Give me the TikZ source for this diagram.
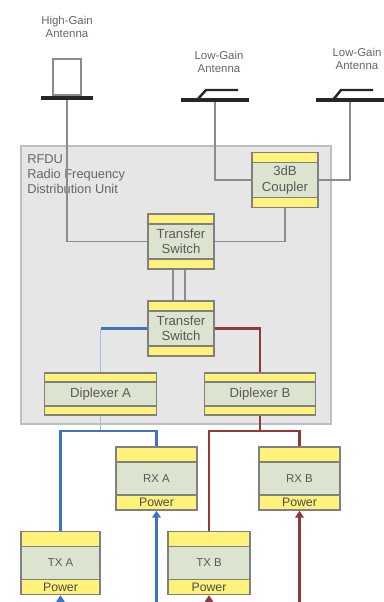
\documentclass[tikz,border=0pt]{standalone}
\usepackage{fontspec}
\setmainfont{Liberation Sans}
\usepackage{xcolor}
\usetikzlibrary{arrows.meta,positioning,calc}
\definecolor{bandyellow}{HTML}{FFF27A}
\definecolor{unitgreen}{HTML}{DCE3CE}
\definecolor{rfdugray}{HTML}{E6E6E6}
\definecolor{linkblue}{HTML}{3F74C4}
\definecolor{paleblue}{HTML}{9DBCE8}
\definecolor{linkred}{HTML}{8E3A3A}
\tikzset{
  unit/.style={draw=gray, line width=.8pt, fill=unitgreen, inner sep=0pt, align=center,
    font=\fontsize{7.5}{8.8}\selectfont, text=black!65,
    path picture={
      \fill[bandyellow] (path picture bounding box.north west) rectangle ($(path picture bounding box.north east)+(0,#1)$);
      \fill[bandyellow] (path picture bounding box.south west) rectangle ($(path picture bounding box.south east)+(0,-#1)$);
      \draw[gray, line width=.8pt] ($(path picture bounding box.north west)+(0,#1)$) -- ($(path picture bounding box.north east)+(0,#1)$);
      \draw[gray, line width=.8pt] ($(path picture bounding box.south west)+(0,-#1)$) -- ($(path picture bounding box.south east)+(0,-#1)$);
    }},
  switchbox/.style={unit=10, minimum width=1.32cm, minimum height=1.1cm},
  diplexerbox/.style={unit=9, minimum width=2.23cm, minimum height=.84cm},
  radiobox/.style={unit=15, minimum width=1.62cm, minimum height=1.26cm, font=\fontsize{6.5}{7.6}\selectfont},
  plate/.style={fill=black!85, inner sep=0pt, minimum height=.08cm},
  caption/.style={font=\fontsize{6.5}{7.6}\selectfont, text=black!60, align=center},
  powertext/.style={font=\fontsize{7}{8}\selectfont, text=black!70},
  wire/.style={draw=black!45, line width=.8pt},
  bluelink/.style={draw=linkblue, line width=1.6pt},
  redlink/.style={draw=linkred, line width=1.6pt},
}
\begin{document}
\begin{tikzpicture}[x=.02cm, y=-.02cm]
\useasboundingbox (0,0) rectangle (384,602);
% RFDU
\node[draw=black!25, line width=1.2pt, fill=rfdugray, minimum width=6.2cm, minimum height=5.56cm, inner sep=0pt] (rfdu) at (176,285) {};
\node[caption, align=left, anchor=north west, inner sep=0pt, font=\fontsize{7.3}{8.7}\selectfont] (rfdutext) at (27,154) {RFDU\\Radio Frequency\\Distribution Unit};
% antennas
\node[plate, minimum width=1.04cm] (hga) at (67,98) {};
\node[wire, draw, minimum width=.56cm, minimum height=.72cm, inner sep=0pt] (hgadish) at (67,77) {};
\node[caption] (hgatext) at (67,27) {High-Gain\\Antenna};
\node[plate, minimum width=1.36cm] (lga) at (215,100) {};
\draw[black!85, line width=1.4pt] (197,100) -- (206,90) -- (238,90);
\node[caption] (lgatext) at (219,62) {Low-Gain\\Antenna};
\node[plate, minimum width=1.36cm] (lgb) at (350,100) {};
\draw[black!85, line width=1.4pt] (333,100) -- (341,90) -- (373,90);
\node[caption] (lgbtext) at (357,59) {Low-Gain\\Antenna};
% units
\node[switchbox] (coupler) at (285,180) {3dB\\Coupler};
\node[switchbox] (swa) at (181,241.5) {Transfer\\Switch};
\node[switchbox] (swb) at (181,328.5) {Transfer\\Switch};
\node[diplexerbox] (dipa) at (100.5,394) {Diplexer A};
\node[diplexerbox] (dipb) at (260,394) {Diplexer B};
\node[radiobox] (rxa) at (156.5,478.5) {RX A};
\node[radiobox] (rxb) at (299.5,478.5) {RX B};
\node[radiobox, minimum width=1.58cm] (txa) at (60.5,563) {TX A};
\node[radiobox, minimum width=1.64cm] (txb) at (209,563) {TX B};
\node[powertext] (rxapow) at (156.5,502) {Power};
\node[powertext] (rxbpow) at (299.5,502) {Power};
\node[powertext] (txapow) at (60.5,587) {Power};
\node[powertext] (txbpow) at (209,587) {Power};
% wiring
\draw[wire] (hga.south) |- (swa.west);
\draw[wire] (lga.south) |- (coupler.west);
\draw[wire] (lgb.south) |- (coupler.east);
\draw[wire] (coupler.south) |- (swa.east);
\draw[wire] ($(swa.south)+(-8,0)$) -- ($(swb.north)+(-8,0)$);
\draw[wire] ($(swa.south)+(4,0)$) -- ($(swb.north)+(4,0)$);
\draw[bluelink] (swb.west) -- (dipa.north |- swb.west);
\draw[paleblue, line width=1pt] (dipa.north |- swb.west) -- (dipa.north);
\draw[redlink] (swb.east) -| (dipb.north);
\coordinate (joina) at (dipa.south |- 0,431);
\coordinate (joinb) at (dipb.south |- 0,431);
\draw[paleblue, line width=1pt] (dipa.south) -- (joina);
\draw[redlink] (dipb.south) -- (joinb);
\draw[bluelink] (txa.north) |- (joina) -| (rxa.north);
\draw[redlink] (txb.north) |- (joinb) -| (rxb.north);
% power feeds
\coordinate (feeda) at (txa.south |- 0,602);
\coordinate (feedb) at (rxa.south |- 0,602);
\coordinate (feedc) at (txb.south |- 0,602);
\coordinate (feedd) at (rxb.south |- 0,602);
\draw[bluelink, -{Triangle[length=4pt,width=5pt]}] (feeda) -- (txa.south);
\draw[bluelink, -{Triangle[length=4pt,width=5pt]}] (feedb) -- (rxa.south);
\draw[redlink, -{Triangle[length=4pt,width=5pt]}] (feedc) -- (txb.south);
\draw[redlink, -{Triangle[length=4pt,width=5pt]}] (feedd) -- (rxb.south);
\end{tikzpicture}
\end{document}
